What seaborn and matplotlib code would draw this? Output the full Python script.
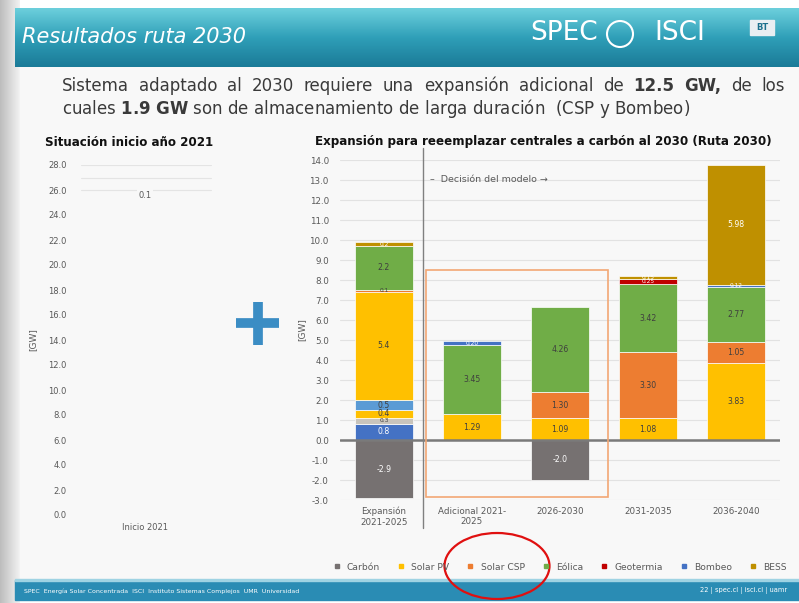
import matplotlib
matplotlib.use("Agg")
import matplotlib.pyplot as plt
import numpy as np
import pandas as pd
import seaborn as sns
from matplotlib.patches import Rectangle, Ellipse, Circle
from matplotlib.lines import Line2D
from matplotlib.colors import LinearSegmentedColormap
from matplotlib.ticker import FormatStrFormatter

# ---------------- data ----------------
categories = ["Expansión\n2021-2025", "Adicional 2021-\n2025", "2026-2030", "2031-2035", "2036-2040"]

exp_2125_tech = ["Carbón", "Bombeo", "Otros", "Solar PV", "Hidro", "Solar PV", "Solar CSP", "Eólica", "BESS"]
exp_2125_val = [-2.9, 0.8, 0.3, 0.4, 0.5, 5.4, 0.1, 2.2, 0.2]

adic_2125_tech = ["Solar PV", "Eólica", "Bombeo"]
adic_2125_val = [1.29, 3.45, 0.20]

p2630_tech = ["Carbón", "Solar PV", "Solar CSP", "Eólica"]
p2630_val = [-2.0, 1.09, 1.30, 4.26]

p3135_tech = ["Solar PV", "Solar CSP", "Eólica", "Geotermia", "BESS"]
p3135_val = [1.08, 3.30, 3.42, 0.25, 0.15]

p3640_tech = ["Solar PV", "Solar CSP", "Eólica", "Bombeo", "BESS"]
p3640_val = [3.83, 1.05, 2.77, 0.12, 5.98]

legend_labels = ["Carbón", "Solar PV", "Solar CSP", "Eólica", "Geotermia", "Bombeo", "BESS"]
colors = {"Carbón": "#767171", "Solar PV": "#ffc000", "Solar CSP": "#ed7d31", "Eólica": "#70ad47",
          "Geotermia": "#c00000", "Bombeo": "#4472c4", "BESS": "#bf9000",
          "Hidro": "#5b9bd5", "Otros": "#c8c4bc"}
white_text = {"Carbón", "Geotermia", "Bombeo", "BESS"}

inicio_label = "Inicio 2021"
inicio_top_value = 0.1

# ---------------- build table ----------------
rows = []
for i, (techs, vals) in enumerate([(exp_2125_tech, exp_2125_val), (adic_2125_tech, adic_2125_val),
                                   (p2630_tech, p2630_val), (p3135_tech, p3135_val),
                                   (p3640_tech, p3640_val)]):
    pos, neg = 0.0, 0.0
    for t, v in zip(techs, vals):
        if v >= 0:
            rows.append((i, t, v, pos)); pos += v
        else:
            rows.append((i, t, v, neg)); neg += v
df = pd.DataFrame(rows, columns=["bar", "tech", "value", "bottom"])

# ---------------- figure ----------------
sns.set_theme(style="white")
plt.rcParams["font.family"] = ["DejaVu Sans"]
plt.rcParams["mathtext.fontset"] = "dejavusans"

W, H = 799, 603
fig = plt.figure(figsize=(W / 100, H / 100), dpi=100)
fig.patch.set_facecolor("white")
renderer = fig.canvas.get_renderer()

def fx(px): return px / W
def fy(py): return 1 - py / H

bg = fig.add_axes([0, 0, 1, 1], zorder=-10)
bg.set_xlim(0, W); bg.set_ylim(H, 0); bg.axis("off")

# left shadow and body
shadow = np.linspace(0, 1, 40).reshape(1, -1)
bg.imshow(shadow, extent=[0, 20, 603, 0], aspect="auto",
          cmap=LinearSegmentedColormap.from_list("s", ["#bdbdbd", "#f2f2f2"]), zorder=0)
bg.add_patch(Rectangle((20, 66), 779, 514, color="#f8f8f8", zorder=0))
# header gradient
grad = np.linspace(0, 1, 60).reshape(-1, 1)
bg.imshow(grad, extent=[15, 799, 67, 8], aspect="auto",
          cmap=LinearSegmentedColormap.from_list("h", ["#6ccfdc", "#2f9fb8", "#1b7b98"]), zorder=1)
# footer
bg.add_patch(Rectangle((15, 580), 784, 20, color="#2a8cb4", zorder=1))
bg.add_patch(Rectangle((15, 579), 784, 1.5, color="#9fd3e3", zorder=1))
bg.set_xlim(0, W); bg.set_ylim(H, 0)

bg.text(22, 37, "Resultados ruta 2030", fontsize=15, style="italic", color="white", va="center", zorder=2)
bg.text(530, 33, "SPEC", fontsize=19, color="white", va="center", zorder=2)
bg.add_patch(Circle((620, 34), 13, fill=False, ec="white", lw=1.5, zorder=2))
bg.text(654, 33, "ISCI", fontsize=19, color="white", va="center", zorder=2)
bg.add_patch(Rectangle((750, 20), 24, 15, color="#e8eef2", zorder=2))
bg.text(762, 28, "BT", fontsize=6, color="#1b6f8c", fontweight="bold", ha="center", va="center", zorder=3)
bg.text(24, 591, "SPEC  Energía Solar Concentrada  ISCI  Instituto Sistemas Complejos  UMR  Universidad",
        fontsize=4.5, color="white", va="center", zorder=2)
bg.text(700, 591, "22 | spec.cl | isci.cl | uamr", fontsize=4.8, color="white", va="center", zorder=2)

# subtitle: first line justified word by word between x=62 and x=785
sub_color = "#3a3a3a"
line1 = [("Sistema", "normal"), ("adaptado", "normal"), ("al", "normal"), ("2030", "normal"),
         ("requiere", "normal"), ("una", "normal"), ("expansión", "normal"), ("adicional", "normal"),
         ("de", "normal"), ("12.5", "bold"), ("GW,", "bold"), ("de", "normal"), ("los", "normal")]
objs, widths = [], []
for w, wt in line1:
    t = bg.text(0, 86, w, fontsize=12, fontweight=wt, color=sub_color, va="center")
    widths.append(t.get_window_extent(renderer).width)
    objs.append(t)
gap = (785 - 62 - sum(widths)) / (len(objs) - 1)
xcur = 62
for t, wdt in zip(objs, widths):
    t.set_x(xcur)
    xcur += wdt + gap
bg.text(62, 109, r"cuales $\mathbf{1.9\ GW}$ son de almacenamiento de larga duración  (CSP y Bombeo)",
        fontsize=12, color=sub_color, va="center")

# panel titles
bg.text(45, 142, "Situación inicio año 2021", fontsize=8.6, fontweight="bold", color="#111111", va="center")
bg.text(315, 142, "Expansión para reeemplazar centrales a carbón al 2030 (Ruta 2030)",
        fontsize=8.6, fontweight="bold", color="#111111", va="center")

# plus sign
bg.plot([236, 279], [323, 323], lw=7, color="#3b8dc4", solid_capstyle="butt", zorder=2)
bg.plot([257.5, 257.5], [302, 345], lw=7, color="#3b8dc4", solid_capstyle="butt", zorder=2)

tick_color = "#595959"

# ---------------- left panel ----------------
ax1 = fig.add_axes([fx(75), fy(515), fx(140), 350 / H])
ax1.set_facecolor("none")
ax1.set_ylim(0, 28)
ax1.set_xlim(-0.5, 0.5)
ax1.set_yticks(np.arange(0, 29, 2))
ax1.yaxis.set_major_formatter(FormatStrFormatter("%.1f"))
ax1.set_xticks([0]); ax1.set_xticklabels([inicio_label])
ax1.tick_params(axis="both", length=0, labelsize=6, colors=tick_color, pad=6)
for s in ax1.spines.values(): s.set_visible(False)
for yv in [28, 27, 26]:
    ax1.axhline(yv, xmin=0.04, xmax=0.97, color="#e4e4e4", lw=0.8)
ax1.text(0, 25.6, f"{inicio_top_value:.1f}", fontsize=6, color=tick_color, ha="center", va="center",
         bbox=dict(fc="#f8f8f8", ec="none", pad=1))
ax1.set_ylabel("[GW]", fontsize=6.5, color=tick_color, labelpad=8)

# ---------------- right panel ----------------
ax2 = fig.add_axes([fx(340), fy(500), fx(440), 340 / H])
ax2.set_facecolor("none")
ax2.set_ylim(-3, 14)
ax2.set_xlim(-0.5, 4.5)
ax2.set_yticks(np.arange(-3, 15, 1))
ax2.yaxis.set_major_formatter(FormatStrFormatter("%.1f"))
ax2.set_xticks(range(len(categories)))
ax2.set_xticklabels(categories)
ax2.tick_params(axis="both", length=0, labelsize=6.3, colors=tick_color, pad=5)
ax2.tick_params(axis="y", pad=8)
for s in ax2.spines.values(): s.set_visible(False)
ax2.yaxis.grid(True, color="#e2e2e2", lw=0.8)
ax2.set_axisbelow(True)
ax2.set_ylabel("[GW]", fontsize=6.5, color=tick_color, labelpad=2)

bw = 0.66
for _, r in df.iterrows():
    ax2.bar(r["bar"], r["value"], bottom=r["bottom"], width=bw, color=colors[r["tech"]],
            edgecolor="white", linewidth=0.5, zorder=2)
    dec = 1 if (r["bar"] == 0 or r["tech"] == "Carbón") else 2
    tc = "white" if r["tech"] in white_text else "#3f3f3f"
    fs = 5.6 if abs(r["value"]) >= 0.35 else 4.2
    ax2.text(r["bar"], r["bottom"] + r["value"] / 2, f"{r['value']:.{dec}f}", fontsize=fs,
             color=tc, ha="center", va="center", zorder=3)

ax2.axhline(0, color="#7a7a7a", lw=1.8, zorder=4)
ax2.plot([0.44, 0.44], [-4.4, 14.6], color="#808080", lw=1.0, clip_on=False, zorder=4)
ax2.text(0.52, 13.0, "–  Decisión del modelo →", fontsize=6.8, color=tick_color, va="center")
ax2.add_patch(Rectangle((0.48, -2.85), 2.06, 11.35, fill=False, ec="#f2a775", lw=1.2,
                        clip_on=False, zorder=5))

# legend
handles = [Line2D([], [], marker="s", linestyle="", color=colors[l], markersize=3.5) for l in legend_labels]
fig.legend(handles, legend_labels, loc="center", bbox_to_anchor=(fx(557), fy(567)), ncol=7,
           frameon=False, fontsize=6.6, handletextpad=0.1, columnspacing=1.3, labelcolor=tick_color)

bg.add_patch(Ellipse((497, 566), 105, 66, fill=False, ec="#e01010", lw=1.6, zorder=20))

fig.savefig("out.png", dpi=100)
